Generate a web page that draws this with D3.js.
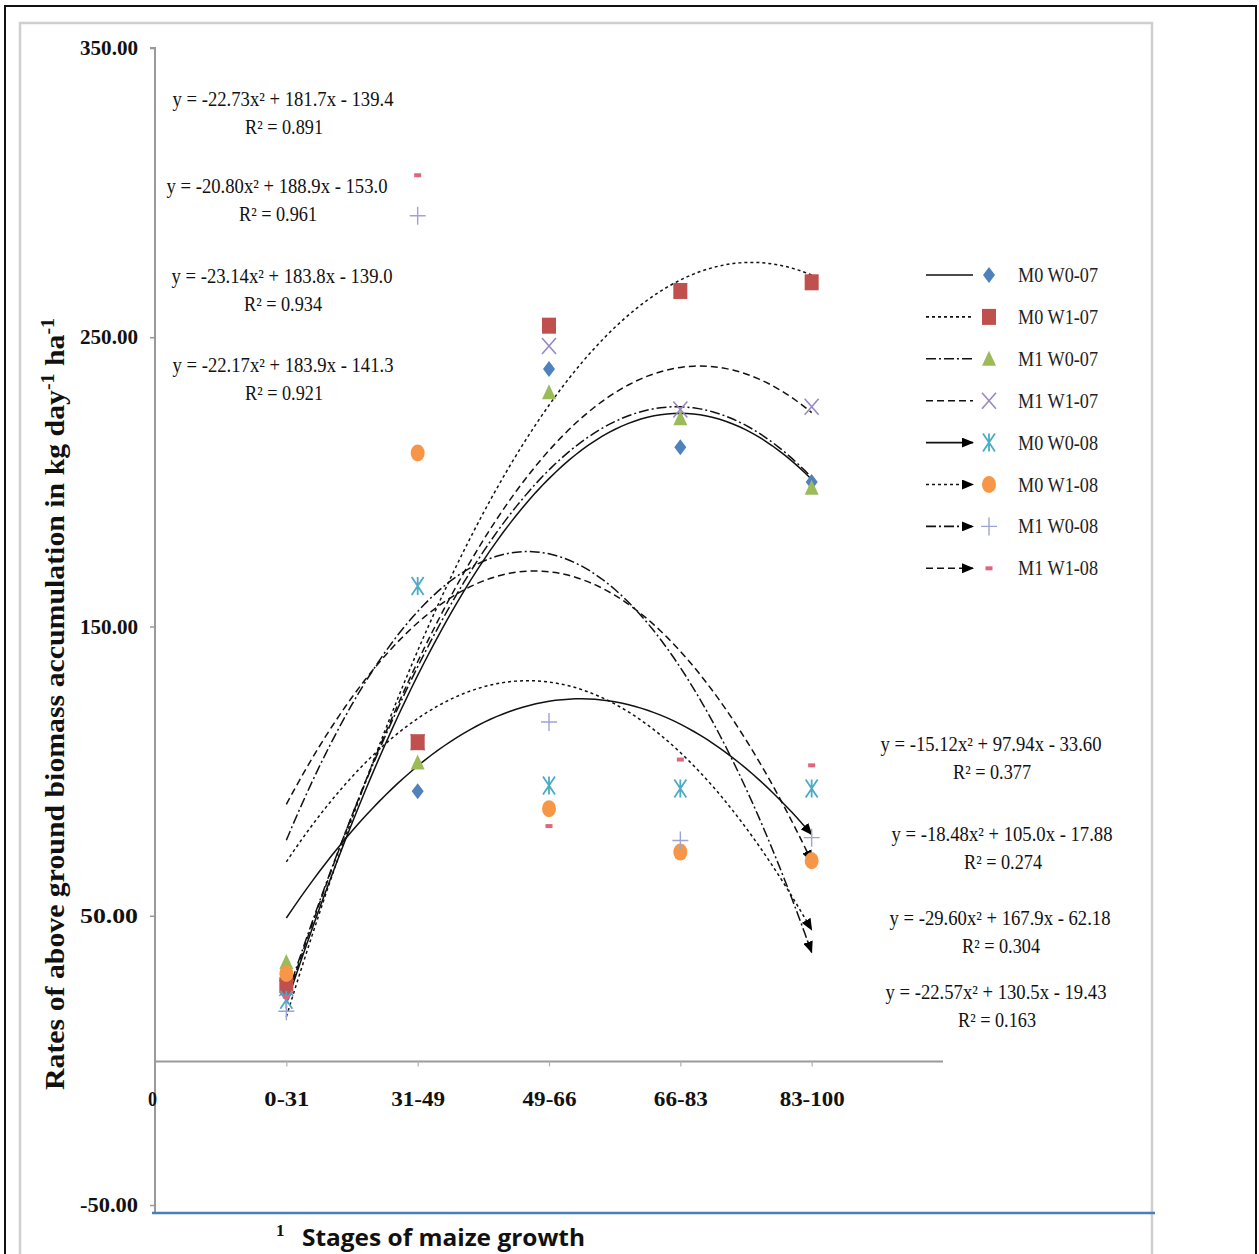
<!DOCTYPE html>
<html>
<head>
<meta charset="utf-8">
<script src="https://cdn.jsdelivr.net/npm/d3@7"></script>
<style>
  html, body { margin: 0; padding: 0; background: #fff; }
  svg { display: block; }
</style>
</head>
<body>
<svg id="chart" width="1259" height="1254"></svg>
<script>
// Growth stages on the category axis (positions 1..5)
const categories = ["0-31", "31-49", "49-66", "66-83", "83-100"];
const yTicks = [-50, 50, 150, 250, 350];

// Series names
const seriesNames = ["M0 W0-07", "M0 W1-07", "M1 W0-07", "M1 W1-07",
                     "M0 W0-08", "M0 W1-08", "M1 W0-08", "M1 W1-08"];

// Rates of above-ground biomass accumulation (kg day-1 ha-1) per stage
const m0w0_07 = [23, 93, 239, 212, 200];
const m0w1_07 = [26, 110, 254, 266, 269];
const m1w0_07 = [34, 103, 231, 222, 198];
const m1w1_07 = [25, 110, 247, 225, 226];
const m0w0_08 = [21, 164, 95, 94, 94];
const m0w1_08 = [30, 210, 87, 72, 69];
const m1w0_08 = [17, 292, 117, 76, 77];
const m1w1_08 = [22, 306, 81, 104, 102];
const seriesValues = [m0w0_07, m0w1_07, m1w0_07, m1w1_07, m0w0_08, m0w1_08, m1w0_08, m1w1_08];

// Polynomial trendlines (order 2): y = a x^2 + b x + c, with R^2
const trendA = [-22.73, -20.80, -23.14, -22.17, -15.12, -18.48, -29.60, -22.57];
const trendB = [181.7, 188.9, 183.8, 183.9, 97.94, 105.0, 167.9, 130.5];
const trendC = [-139.4, -153.0, -139.0, -141.3, -33.60, -17.88, -62.18, -19.43];
const trendR2 = ["0.891", "0.961", "0.934", "0.921", "0.377", "0.274", "0.304", "0.163"];
const trendLabels = [
  "y = -22.73x² + 181.7x - 139.4",
  "y = -20.80x² + 188.9x - 153.0",
  "y = -23.14x² + 183.8x - 139.0",
  "y = -22.17x² + 183.9x - 141.3",
  "y = -15.12x² + 97.94x - 33.60",
  "y = -18.48x² + 105.0x - 17.88",
  "y = -29.60x² + 167.9x - 62.18",
  "y = -22.57x² + 130.5x - 19.43"
];

// Styling per series
const colors = ["#4f81bd", "#c0504d", "#9bbb59", "#9a88c4", "#4bacc6", "#f79646", "#9ea3d6", "#e0657f"];
const dashes = ["none", "3,3", "10,3,2,3", "7,4", "none", "3,3", "10,3,2,3", "7,4"];
const arrowed = [false, false, false, false, true, true, true, true];
const shapes = ["diamond", "square", "triangle", "x", "asterisk", "circle", "plus", "dash"];
// Point layering (first drawn sits underneath)
const drawOrder = [3, 0, 2, 1, 4, 5, 6, 7];

const svg = d3.select("#chart");
const serif = "'Liberation Serif', 'Times New Roman', serif";

// Frames
svg.append("rect").attr("x", 5).attr("y", 6).attr("width", 1251).attr("height", 1260)
  .attr("fill", "none").attr("stroke", "#111").attr("stroke-width", 2);
svg.append("rect").attr("x", 20).attr("y", 23).attr("width", 1132).attr("height", 1250)
  .attr("fill", "none").attr("stroke", "#cfcfcf").attr("stroke-width", 2.5);

const x = d3.scaleLinear().domain([0, 6]).range([155, 943]);
const y = d3.scaleLinear().domain([-50, 350]).range([1205, 48]);

// Arrow head for the 2008 trendlines
svg.append("defs").append("marker")
  .attr("id", "arrow").attr("markerUnits", "userSpaceOnUse")
  .attr("viewBox", "0 0 12 10").attr("refX", 11).attr("refY", 5)
  .attr("markerWidth", 12).attr("markerHeight", 10).attr("orient", "auto")
  .append("path").attr("d", "M0,0 L12,5 L0,10 Z").attr("fill", "#000");

// Axes
const fmt = d => d3.format(".2f")(d).replace("−", "-");
const yAxis = svg.append("g").attr("transform", `translate(${x(0)},0)`)
  .call(d3.axisLeft(y).tickValues(yTicks).tickFormat(fmt).tickSize(5).tickPadding(12));
yAxis.select(".domain").attr("stroke", "#9a9a9a").attr("stroke-width", 2)
  .attr("d", `M-5,${y(350)}H0V${y(-50) + 7}`);
yAxis.selectAll(".tick line").attr("stroke", "#9a9a9a").attr("stroke-width", 1.5);
yAxis.selectAll(".tick text")
  .attr("font-family", serif).attr("font-weight", "bold").attr("font-size", 21)
  .attr("fill", "#111").attr("dy", "0.32em")
  .attr("textLength", 58).attr("lengthAdjust", "spacingAndGlyphs");

const xAxis = svg.append("g").attr("transform", `translate(0,${y(0) + 1})`)
  .call(d3.axisBottom(x).tickValues([0, 1, 2, 3, 4, 5])
    .tickFormat(i => i === 0 ? "0" : categories[i - 1]).tickSize(5).tickPadding(24));
xAxis.select(".domain").attr("stroke", "#9a9a9a").attr("stroke-width", 2)
  .attr("d", `M${x(0)},0H${x(6)}`);
xAxis.selectAll(".tick line").attr("stroke", "#b0b0b0").attr("stroke-width", 1.2);
xAxis.selectAll(".tick").filter(d => d === 0).select("line").remove();
const xLabelWidths = [9, 45, 54, 54, 54, 65];
xAxis.selectAll(".tick text")
  .attr("font-family", serif).attr("font-weight", "bold").attr("font-size", 22)
  .attr("fill", "#111")
  .attr("textLength", d => xLabelWidths[d]).attr("lengthAdjust", "spacingAndGlyphs");
xAxis.selectAll(".tick").filter(d => d === 0).select("text").attr("dx", -3);

// Bottom rule
svg.append("line").attr("x1", 152).attr("x2", 1155).attr("y1", 1213).attr("y2", 1213)
  .attr("stroke", "#4a7ebb").attr("stroke-width", 2.5);

// Trendlines
const lineGen = d3.line().x(d => x(d[0])).y(d => y(d[1]));
const trendG = svg.append("g");
seriesNames.forEach((name, i) => {
  const pts = d3.range(1, 5.0001, 0.05).map(t => [t, trendA[i] * t * t + trendB[i] * t + trendC[i]]);
  const p = trendG.append("path").datum(pts).attr("d", lineGen)
    .attr("fill", "none").attr("stroke", "#111").attr("stroke-width", 1.5)
    .attr("stroke-dasharray", dashes[i]);
  if (arrowed[i]) p.attr("marker-end", "url(#arrow)");
});

// Marker drawing
function drawMarker(g, shape, color, cx, cy) {
  switch (shape) {
    case "diamond":
      g.append("path").attr("d", `M${cx},${cy - 8}L${cx + 6},${cy}L${cx},${cy + 8}L${cx - 6},${cy}Z`).attr("fill", color);
      break;
    case "square":
      g.append("rect").attr("x", cx - 7).attr("y", cy - 8).attr("width", 14).attr("height", 16).attr("fill", color);
      break;
    case "triangle":
      g.append("path").attr("d", `M${cx},${cy - 8}L${cx + 7},${cy + 7}L${cx - 7},${cy + 7}Z`).attr("fill", color);
      break;
    case "x":
      g.append("path").attr("d", `M${cx - 7},${cy - 8}L${cx + 7},${cy + 8}M${cx + 7},${cy - 8}L${cx - 7},${cy + 8}`)
        .attr("stroke", color).attr("stroke-width", 1.6).attr("fill", "none");
      break;
    case "asterisk":
      g.append("path").attr("d", `M${cx - 6},${cy - 9}L${cx + 6},${cy + 9}M${cx + 6},${cy - 9}L${cx - 6},${cy + 9}M${cx},${cy - 9}L${cx},${cy + 9}`)
        .attr("stroke", color).attr("stroke-width", 1.8).attr("fill", "none");
      break;
    case "circle":
      g.append("ellipse").attr("cx", cx).attr("cy", cy).attr("rx", 7).attr("ry", 8.5).attr("fill", color);
      break;
    case "plus":
      g.append("path").attr("d", `M${cx - 8},${cy}L${cx + 8},${cy}M${cx},${cy - 9}L${cx},${cy + 9}`)
        .attr("stroke", color).attr("stroke-width", 1.4).attr("fill", "none");
      break;
    case "dash":
      g.append("rect").attr("x", cx - 3.5).attr("y", cy - 2).attr("width", 7).attr("height", 4).attr("fill", color);
      break;
  }
}

// Data points
const pointG = svg.append("g");
drawOrder.forEach(i => {
  seriesValues[i].forEach((v, k) => drawMarker(pointG, shapes[i], colors[i], x(k + 1), y(v)));
});

// Trendline equations
const eqPos = [
  [283, 100], [277, 187], [282, 277], [283, 366],
  [991, 745], [1002, 835], [1000, 919], [996, 993]
];
const eqG = svg.append("g").attr("font-family", serif).attr("font-size", 20).attr("fill", "#111");
trendLabels.forEach((t, i) => {
  const [cx, cy] = eqPos[i];
  eqG.append("text").attr("x", cx).attr("y", cy + 6).attr("text-anchor", "middle")
    .attr("textLength", 221).attr("lengthAdjust", "spacingAndGlyphs").text(t);
  eqG.append("text").attr("x", cx + 1).attr("y", cy + 34).attr("text-anchor", "middle")
    .attr("textLength", 78).attr("lengthAdjust", "spacingAndGlyphs").text("R² = " + trendR2[i]);
});

// Legend
const legG = svg.append("g");
seriesNames.forEach((name, i) => {
  const ly = 275 + i * 41.9;
  const ln = legG.append("line").attr("x1", 926).attr("x2", 973)
    .attr("y1", ly).attr("y2", ly).attr("stroke", "#111").attr("stroke-width", 1.6)
    .attr("stroke-dasharray", dashes[i]);
  if (arrowed[i]) ln.attr("marker-end", "url(#arrow)");
  drawMarker(legG, shapes[i], colors[i], 989, ly);
  legG.append("text").attr("x", 1018).attr("y", ly + 7)
    .attr("font-family", serif).attr("font-size", 20).attr("fill", "#222")
    .attr("textLength", 80).attr("lengthAdjust", "spacingAndGlyphs").text(name);
});

// Axis titles
const yTitle = svg.append("text")
  .attr("transform", `translate(64,${(1090 + 318) / 2}) rotate(-90)`)
  .attr("text-anchor", "middle").attr("font-family", serif).attr("font-weight", "bold")
  .attr("font-size", 27).attr("fill", "#111")
  .attr("textLength", 772).attr("lengthAdjust", "spacingAndGlyphs");
yTitle.append("tspan").text("Rates of above ground biomass accumulation in kg day");
yTitle.append("tspan").attr("baseline-shift", "super").attr("font-size", 18).text("-1");
yTitle.append("tspan").text(" ha");
yTitle.append("tspan").attr("baseline-shift", "super").attr("font-size", 18).text("-1");

svg.append("text").attr("x", 276).attr("y", 1236)
  .attr("font-family", serif).attr("font-weight", "bold").attr("font-size", 17).attr("fill", "#111").text("1");
svg.append("text").attr("x", 302).attr("y", 1246)
  .attr("font-family", "'Open Sans', 'Noto Sans', sans-serif").attr("font-weight", "bold")
  .attr("font-size", 23).attr("fill", "#111")
  .attr("textLength", 283).attr("lengthAdjust", "spacingAndGlyphs").text("Stages of maize growth");
</script>
</body>
</html>
